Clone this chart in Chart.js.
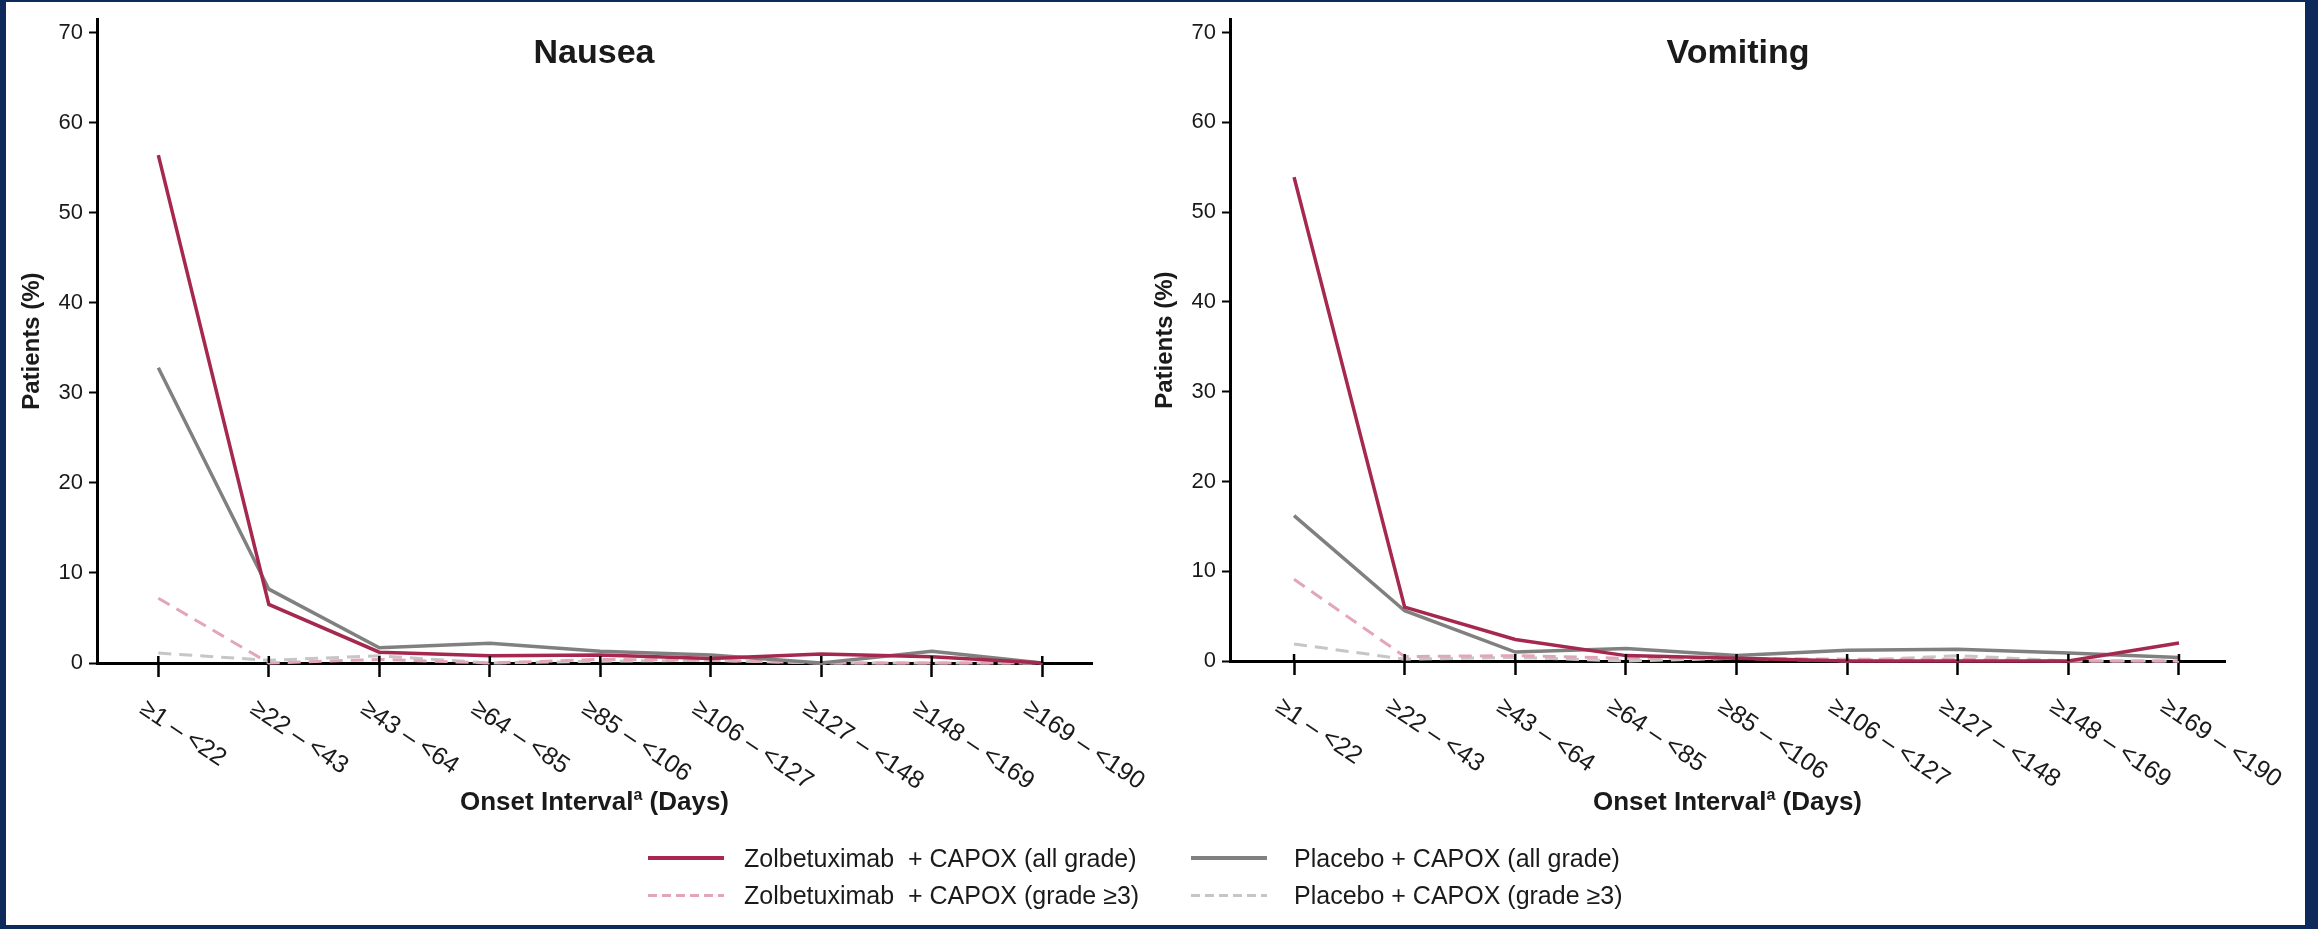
<!DOCTYPE html>
<html><head><meta charset="utf-8">
<script src="https://cdn.jsdelivr.net/npm/chart.js@4.4.0/dist/chart.umd.min.js"></script>
<style>
html,body{margin:0;padding:0;background:#0d2a5a;width:2318px;height:929px;overflow:hidden;}
#inner{position:absolute;left:6px;top:2px;width:2299px;height:923px;background:#fff;}
canvas{position:absolute;top:0;}
#c1{left:0;}
#c2{left:1140px;}
.sw{position:absolute;height:4px;width:76px;}
.lt{position:absolute;font:25px "Liberation Sans",Arial,sans-serif;color:#1a1a1a;line-height:30px;white-space:pre;}
</style></head>
<body>
<div id="inner"></div>
<canvas id="c1" width="1160" height="929"></canvas>
<canvas id="c2" width="1178" height="929"></canvas>

<div class="sw" style="left:648px;top:856px;background:#a8264f;"></div>
<div class="lt" style="left:744px;top:843px;">Zolbetuximab  + CAPOX (all grade)</div>
<div class="sw" style="left:648px;top:894px;height:3px;background:repeating-linear-gradient(90deg,#e3a6b8 0 9px,transparent 9px 14px);"></div>
<div class="lt" style="left:744px;top:880px;">Zolbetuximab  + CAPOX (grade ≥3)</div>
<div class="sw" style="left:1191px;top:856px;background:#808080;"></div>
<div class="lt" style="left:1294px;top:843px;">Placebo + CAPOX (all grade)</div>
<div class="sw" style="left:1191px;top:894px;height:3px;background:repeating-linear-gradient(90deg,#c6c6c6 0 9px,transparent 9px 14px);"></div>
<div class="lt" style="left:1294px;top:880px;">Placebo + CAPOX (grade ≥3)</div>

<script>
// ---- data ----
const xLabels = ['≥1 – <22','≥22 – <43','≥43 – <64','≥64 – <85','≥85 – <106','≥106 – <127','≥127 – <148','≥148 – <169','≥169 – <190'];
const yTicks = [0,10,20,30,40,50,60,70];
const seriesNames = ['Zolbetuximab + CAPOX (all grade)','Placebo + CAPOX (all grade)','Zolbetuximab + CAPOX (grade ≥3)','Placebo + CAPOX (grade ≥3)'];

const nauseaZolbeAll    = [56.4, 6.5, 1.2, 0.8, 0.9, 0.5, 1.0, 0.7, 0];
const nauseaPlaceboAll  = [32.8, 8.2, 1.7, 2.2, 1.3, 0.9, 0,   1.3, 0];
const nauseaZolbeG3     = [7.2,  0,   0.4, 0,   0.4, 0.3, 0,   0,   0];
const nauseaPlaceboG3   = [1.1,  0.3, 0.8, 0,   0.2, 0.3, 0,   0,   0];

const vomitZolbeAll     = [53.9, 6.0, 2.4, 0.6, 0.3, 0,   0,   0,   2.0];
const vomitPlaceboAll   = [16.2, 5.6, 1.0, 1.4, 0.6, 1.2, 1.3, 0.9, 0.4];
const vomitZolbeG3      = [9.1,  0.5, 0.6, 0.3, 0.3, 0.2, 0.2, 0,   0];
const vomitPlaceboG3    = [1.9,  0.2, 0.4, 0,   0.3, 0,   0.6, 0,   0];

const FONT = '"Liberation Sans", Arial, sans-serif';
const styles = [
  {borderColor:'#a5284f', borderWidth:3.5, borderDash:[]},
  {borderColor:'#808080', borderWidth:3.5, borderDash:[]},
  {borderColor:'#e3a6b8', borderWidth:3,   borderDash:[13,8]},
  {borderColor:'#c6c6c6', borderWidth:3,   borderDash:[13,8]}
];

function toPts(arr){ return arr.map((v,i)=>({x:i,y:v})); }

const customPlugin = {
  id:'custom',
  afterDraw(chart, args, o){
    const {ctx, chartArea} = chart;
    const xs = chart.scales.x;
    ctx.save();
    // tick marks crossing above the x axis
    ctx.strokeStyle = '#000';
    ctx.lineWidth = 2.5;
    xLabels.forEach((t,i)=>{
      const px = xs.getPixelForValue(i);
      ctx.beginPath(); ctx.moveTo(px, chartArea.bottom - 7); ctx.lineTo(px, chartArea.bottom); ctx.stroke();
    });
    ctx.fillStyle = '#1a1a1a';
    // rotated x tick labels (clockwise)
    ctx.font = '25px ' + FONT;
    ctx.textAlign = 'left';
    ctx.textBaseline = 'top';
    xLabels.forEach((t,i)=>{
      const px = xs.getPixelForValue(i);
      ctx.save();
      ctx.translate(px - 9, chartArea.bottom + 33);
      ctx.rotate(o.angle * Math.PI/180);
      ctx.fillText(t, 0, 0);
      ctx.restore();
    });
    // panel title
    ctx.font = 'bold 34px ' + FONT;
    ctx.textAlign = 'center';
    ctx.textBaseline = 'alphabetic';
    ctx.fillText(o.title, o.titleX, o.titleY);
    // x axis title with superscript
    const cx = (chartArea.left + chartArea.right)/2;
    const big = 'bold 26px ' + FONT, small = 'bold 16px ' + FONT;
    ctx.font = big; const w1 = ctx.measureText('Onset Interval').width;
    const w3 = ctx.measureText(' (Days)').width;
    ctx.font = small; const w2 = ctx.measureText('a').width;
    let x = cx - (w1+w2+w3)/2;
    const y = o.xTitleY;
    ctx.textAlign = 'left';
    ctx.font = big; ctx.fillText('Onset Interval', x, y); x += w1;
    ctx.font = small; ctx.fillText('a', x, y - 10); x += w2;
    ctx.font = big; ctx.fillText(' (Days)', x, y);
    ctx.restore();
  }
};

function makeChart(id, data, cfg){
  const datasets = data.map((arr,k)=>({
    label: seriesNames[k],
    data: toPts(arr),
    borderColor: styles[k].borderColor,
    borderWidth: styles[k].borderWidth,
    borderDash: styles[k].borderDash,
    pointRadius: 0,
    tension: 0,
    fill: false,
    clip: false,
    order: k
  }));
  return new Chart(document.getElementById(id), {
    type:'line',
    data:{datasets},
    plugins:[customPlugin],
    options:{
      responsive:false,
      animation:false,
      events:[],
      layout:{padding:cfg.padding},
      plugins:{
        legend:{display:false},
        tooltip:{enabled:false},
        custom:{title:cfg.title, titleX:cfg.titleX, titleY:cfg.titleY, xTitleY:cfg.xTitleY, angle:34}
      },
      scales:{
        x:{
          type:'linear', position:'bottom',
          min:cfg.xMin, max:cfg.xMax,
          afterBuildTicks:s=>{ s.ticks = xLabels.map((_,i)=>({value:i})); },
          afterFit:s=>{ s.height = 20; },
          ticks:{display:false},
          grid:{drawOnChartArea:false, drawTicks:true, tickLength:14, tickWidth:2.5, tickColor:'#000'},
          border:{display:true, color:'#000', width:3}
        },
        y:{
          type:'linear', position:'left',
          min:0, max:71.5,
          afterBuildTicks:s=>{ s.ticks = yTicks.map(v=>({value:v})); },
          afterFit:s=>{ s.width = cfg.yWidth; },
          ticks:{font:{family:FONT, size:22}, color:'#1a1a1a', padding:6},
          grid:{drawOnChartArea:false, drawTicks:true, tickLength:8, tickWidth:2, tickColor:'#000'},
          border:{display:true, color:'#000', width:3},
          title:{display:true, text:'Patients (%)', color:'#1a1a1a', font:{family:FONT, size:24, weight:'bold'}, padding:{top:cfg.yTitlePad, bottom:0}}
        }
      }
    }
  });
}

makeChart('c1', [nauseaZolbeAll, nauseaPlaceboAll, nauseaZolbeG3, nauseaPlaceboG3], {
  padding:{left:0, top:17, right:68, bottom:246},
  xMin:-0.555, xMax:8.45, yWidth:97, yTitlePad:18,
  title:'Nausea', titleX:594, titleY:63, xTitleY:810
});
makeChart('c2', [vomitZolbeAll, vomitPlaceboAll, vomitZolbeG3, vomitPlaceboG3], {
  padding:{left:0, top:13, right:93, bottom:248},
  xMin:-0.579, xMax:8.416, yWidth:90, yTitlePad:11,
  title:'Vomiting', titleX:598, titleY:63, xTitleY:810
});
</script>
</body></html>
